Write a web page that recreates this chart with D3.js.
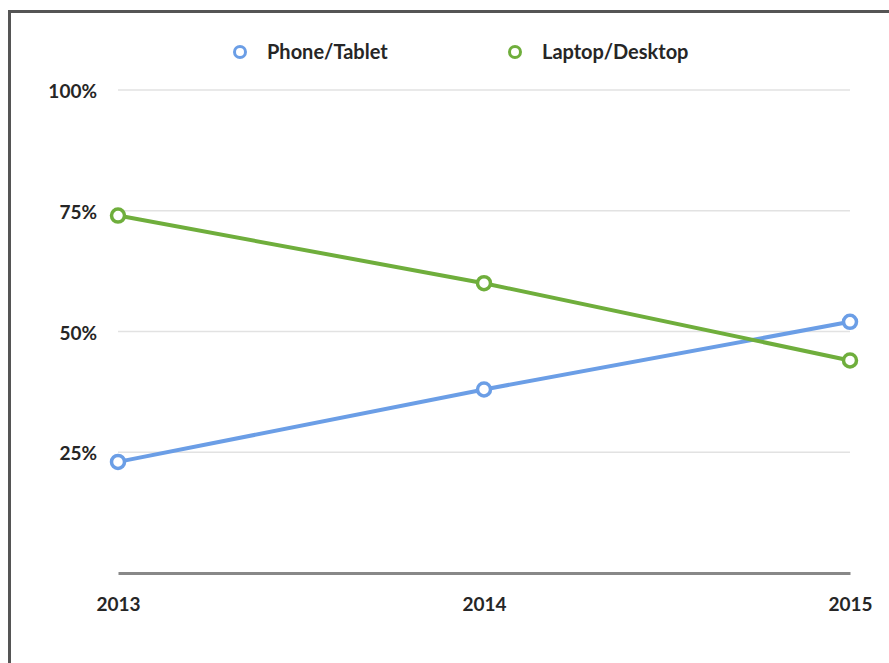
<!DOCTYPE html>
<html>
<head>
<meta charset="utf-8">
<script src="https://cdn.jsdelivr.net/npm/d3@7/dist/d3.min.js"></script>
<style>
  html, body { margin: 0; padding: 0; background: #fff; }
  svg { display: block; }
  text { font-family: Lato, "Open Sans", sans-serif; fill: #262626; font-weight: bold; }
</style>
</head>
<body>
<svg id="chart"></svg>
<script>
// data
var years = ["2013", "2014", "2015"];
var phoneTablet = [23, 38, 52];
var laptopDesktop = [74, 60, 44];
var yTicks = [25, 50, 75, 100];
var seriesNames = ["Phone/Tablet", "Laptop/Desktop"];
var seriesColors = ["#6b9ee6", "#6fae3c"];

var width = 889, height = 663;
var margin = { top: 90, right: 39, bottom: 90, left: 118 };

var svg = d3.select("#chart")
    .attr("width", width)
    .attr("height", height);

// frame (top and left edges only show in the picture)
svg.append("path")
    .attr("d", "M9.5," + height + "V11.5H" + width)
    .attr("fill", "none")
    .attr("stroke", "#555")
    .attr("stroke-width", 3);

var xScale = d3.scalePoint()
    .domain(years)
    .range([margin.left, width - margin.right]);

var yScale = d3.scaleLinear()
    .domain([0, 100])
    .range([height - margin.bottom, margin.top]);

// gridlines
svg.append("g")
    .selectAll("line")
    .data(yTicks)
    .enter()
    .append("line")
    .attr("x1", margin.left)
    .attr("x2", width - margin.right)
    .attr("y1", function(d) { return yScale(d); })
    .attr("y2", function(d) { return yScale(d); })
    .attr("stroke", "#e2e2e2")
    .attr("stroke-width", 1.5);

// y labels
var yAxis = d3.axisLeft(yScale)
    .tickValues(yTicks)
    .tickSize(0)
    .tickPadding(21)
    .tickFormat(function(d) { return d + "%"; });
var gy = svg.append("g")
    .attr("transform", "translate(" + margin.left + ",0)")
    .call(yAxis);
gy.select(".domain").remove();
gy.selectAll("text")
    .attr("font-size", 19)
    .attr("dy", "0.4em");

// x axis
var xAxis = d3.axisBottom(xScale).tickSize(0).tickPadding(21);
var gx = svg.append("g")
    .attr("transform", "translate(0," + yScale(0) + ")")
    .call(xAxis);
gx.select(".domain")
    .attr("stroke", "#888")
    .attr("stroke-width", 3);
gx.selectAll("text")
    .attr("font-size", 19)
    .attr("dy", "0.9em");

var allSeries = [phoneTablet, laptopDesktop];

var line = d3.line()
    .x(function(d, i) { return xScale(years[i]); })
    .y(function(d) { return yScale(d); });

allSeries.forEach(function(values, s) {
    svg.append("path")
        .datum(values)
        .attr("d", line)
        .attr("fill", "none")
        .attr("stroke", seriesColors[s])
        .attr("stroke-width", 4);
});

allSeries.forEach(function(values, s) {
    svg.append("g")
        .selectAll("circle")
        .data(values)
        .enter()
        .append("circle")
        .attr("cx", function(d, i) { return xScale(years[i]); })
        .attr("cy", function(d) { return yScale(d); })
        .attr("r", 6.5)
        .attr("fill", "#fff")
        .attr("stroke", seriesColors[s])
        .attr("stroke-width", 3.5);
});

// legend
var legendX = [240, 515];
var legend = svg.append("g")
    .selectAll("g")
    .data(seriesNames)
    .enter()
    .append("g")
    .attr("transform", function(d, i) { return "translate(" + legendX[i] + ",52)"; });
legend.append("circle")
    .attr("r", 5.5)
    .attr("fill", "#fff")
    .attr("stroke", function(d, i) { return seriesColors[i]; })
    .attr("stroke-width", 3);
legend.append("text")
    .attr("x", 27)
    .attr("dy", "0.36em")
    .attr("font-size", 20)
    .text(function(d) { return d; });
</script>
</body>
</html>
